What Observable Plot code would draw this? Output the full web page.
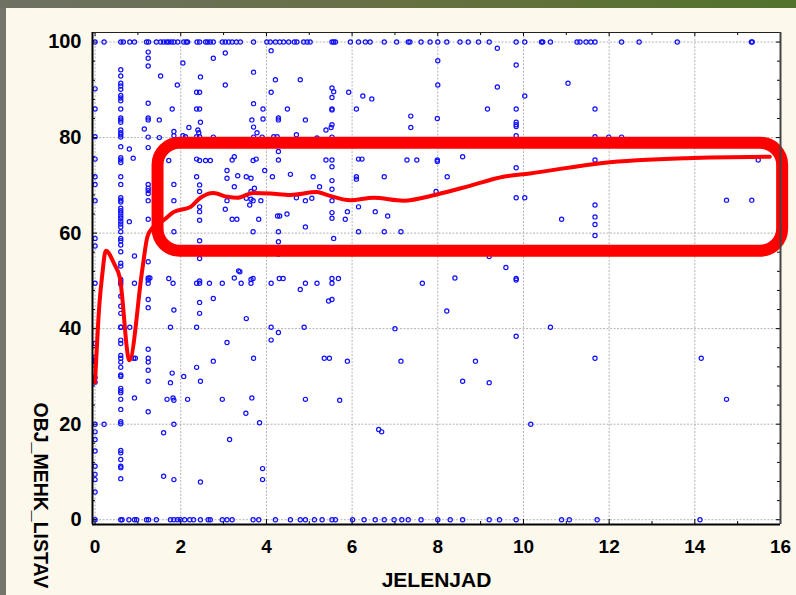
<!DOCTYPE html>
<html><head><meta charset="utf-8">
<script src="https://cdn.jsdelivr.net/npm/d3@7"></script>
<script src="https://cdn.jsdelivr.net/npm/@observablehq/plot@0.6"></script>
<style>
html,body{margin:0;padding:0;}
body{width:796px;height:595px;position:relative;overflow:hidden;background:linear-gradient(90deg,#6e7163 0%,#65703f 55%,#52732c 100%);}
#leftstrip{position:absolute;left:0;top:8px;width:6px;bottom:0;background:#74766b;}
#panel{position:absolute;left:6px;top:8px;right:0;bottom:0;background:#fdf8ec;}
#chart{position:absolute;left:0;top:0;}
</style></head><body>
<div id="leftstrip"></div><div id="panel"></div><div id="chart"></div>
<script>
// ---- data ----
const xLabel = "JELENJAD";
const yLabel = "OBJ_MEHK_LISTAV";
const xTicks = [0, 2, 4, 6, 8, 10, 12, 14, 16];
const yTicks = [0, 20, 40, 60, 80, 100];
const xMinor = [1, 3, 5, 7, 9, 11, 13, 15];
const yMinor = [4, 8, 12, 16, 24, 28, 32, 36, 44, 48, 52, 56, 64, 68, 72, 76, 84, 88, 92, 96];
const xDomain = [-0.06, 16];
const yDomain = [-1, 102];

// points on the y = 100 row (x values)
const topRowX = [0, 0.21, 0.6, 0.66, 0.81, 0.92, 1.2, 1.25, 1.43, 1.53, 1.6, 1.67, 1.72, 1.78, 1.84, 1.93, 2.07, 2.13, 2.16, 2.38, 2.44, 2.58, 2.63, 2.69, 2.76, 2.97, 3.04, 3.12, 3.2, 3.3, 3.39, 3.7, 4.01, 4.09, 4.21, 4.31, 4.4, 4.52, 4.65, 4.71, 4.87, 4.95, 5.02, 5.53, 5.57, 5.61, 5.96, 6.15, 6.31, 6.42, 6.75, 7.04, 7.31, 7.35, 7.61, 7.82, 8.0, 8.21, 8.52, 8.71, 8.95, 9.2, 9.83, 10.03, 10.42, 10.45, 10.63, 11.25, 11.32, 11.46, 11.57, 11.67, 12.29, 12.7, 13.59, 15.32, 15.34];
// points on the y = 0 row (x values)
const bottomRowX = [0, 0.6, 0.63, 0.79, 0.92, 0.97, 1.2, 1.25, 1.43, 1.76, 1.84, 1.92, 1.99, 2.09, 2.21, 2.3, 2.46, 2.64, 2.69, 2.97, 3.08, 3.2, 3.69, 3.82, 4.21, 4.56, 4.79, 4.91, 5.12, 5.3, 5.53, 5.61, 6.01, 6.28, 6.54, 6.75, 6.98, 7.16, 7.31, 7.61, 8.0, 8.29, 8.58, 9.2, 9.44, 9.83, 10.89, 11.07, 11.72, 14.12];
// column at x = 0 (y values)
const col0Y = [90.2, 86.0, 80.2, 75.5, 71.8, 70.2, 66.8, 58.9, 57.3, 49.5, 36.9, 34.0, 33.4, 33.0, 29.8, 28.8, 20.0, 18.4, 16.8, 14.4, 11.2, 9.5, 8.4, 5.8];
// column at x = 0.6 (y values)
const col06Y = [94.2, 92.9, 91.4, 90.8, 90.1, 88.8, 88.3, 87.7, 86.0, 84.1, 83.7, 83.2, 81.6, 81.0, 80.6, 80.1, 78.1, 75.8, 75.3, 74.8, 71.8, 70.2, 67.4, 66.9, 66.5, 65.2, 64.7, 64.2, 63.6, 63.1, 62.5, 61.9, 61.3, 60.3, 58.9, 58.4, 57.5, 56.1, 53.7, 53.1, 50.3, 49.8, 49.3, 46.8, 44.7, 43.2, 40.3, 40.3, 37.6, 36.9, 34.4, 33.8, 33.0, 31.9, 30.3, 30.0, 27.5, 27.0, 26.6, 25.2, 23.1, 20.5, 20.1, 14.5, 14.0, 12.6, 11.2, 10.9, 8.6];
// column at x = 1.24 (y values)
const col124Y = [97.9, 96.6, 95.0, 87.2, 84.1, 83.7, 80.1, 77.9, 70.2, 69.4, 68.9, 68.3, 66.8, 62.9, 54.0, 50.6, 50.2, 49.5, 46.1, 44.4, 35.7, 33.8, 33.0, 31.3, 29.0, 22.6];
// remaining points [JELENJAD, OBJ_MEHK_LISTAV]
const others = [
[0.21,20.0],[1.28,50.6],
[4.11,98.2],[3.04,97.7],[2.76,96.6],[2.05,95.6],[1.53,92.9],[2.46,92.7],[3.7,93.7],[4.21,92.1],[1.92,91.0],[3.04,91.0],[2.37,89.5],[2.44,89.5],[4.11,89.5],[1.8,86.0],[2.37,86.0],[2.44,86.0],[3.7,87.1],[3.92,86.0],[4.28,84.1],[1.5,83.7],[2.46,83.2],[3.66,83.7],[3.92,83.9],[1.15,81.8],[1.84,81.3],[2.19,82.1],[2.4,81.6],[2.42,81.0],[3.7,82.2],[3.78,81.0],[1.5,80.0],[1.84,80.4],[2.05,80.4],[2.11,80.2],[2.37,80.2],[2.44,80.2],[2.76,80.1],[3.7,80.1],[3.9,80.1],[4.17,80.2],[4.25,80.2],[0.8,77.6],[0.89,75.7],
[1.72,75.2],[2.37,75.5],[2.44,75.2],[2.58,75.2],[2.69,75.2],[3.2,75.3],[3.25,76.0],[3.69,75.2],[3.76,75.5],[3.96,73.1],[2.37,71.8],[1.84,70.2],[2.44,70.1],[2.44,68.7],[3.08,73.1],[3.08,71.5],[3.33,72.0],[3.53,71.8],[3.64,71.5],[4.14,71.8],[3.25,69.7],[3.72,69.4],[3.64,68.7],[1.84,66.8],[3.08,66.8],[3.53,67.3],[3.64,67.1],[3.69,66.8],[3.87,66.8],[2.44,65.5],[2.44,64.5],[2.44,62.7],[3.04,65.0],[3.61,65.9],[0.8,62.4],[3.2,62.9],[3.31,62.9],[3.82,62.9],[1.84,60.3],[3.69,60.3],[2.44,58.4],[0.92,55.2],[2.44,54.7],[3.35,52.1],[1.72,50.5],[3.25,50.6],[3.69,50.5],
[0.92,49.5],[1.82,49.5],[2.37,49.5],[2.44,50.0],[2.44,49.5],[2.67,49.5],[2.97,49.5],[3.38,51.9],[3.41,49.5],[3.64,50.3],[3.64,49.5],[4.11,49.5],[4.3,50.5],[2.76,46.3],[2.44,45.5],[2.44,43.2],[1.84,43.9],[3.53,42.1],[0.81,40.3],[1.76,40.3],[2.37,40.3],[4.11,40.3],[4.28,39.2],[4.11,37.6],[3.08,37.1],[0.9,33.8],[0.94,33.8],[2.76,33.2],[3.7,33.8],[1.8,30.7],[1.76,28.7],[2.07,30.0],[2.37,31.9],[2.46,29.0],[0.92,25.5],[1.68,25.2],[1.82,25.5],[2.16,25.2],[2.97,25.2],[3.66,25.5],
[1.84,25.0],[3.52,22.3],[1.84,20.0],[3.84,20.3],[1.6,18.2],[3.14,16.8],[1.6,9.1],[1.84,8.4],[2.46,7.9],[3.91,10.7],[3.91,8.4],
[9.39,98.7],[8.0,96.1],[9.83,95.2],[4.79,92.1],[8.0,91.0],[9.39,90.6],[5.53,90.4],[5.57,89.6],[5.53,88.4],[5.92,89.5],[6.25,88.7],[6.46,88.1],[10.03,88.7],[4.49,86.0],[5.53,86.0],[5.53,85.8],[6.1,86.0],[9.16,86.0],[9.83,86.0],[4.28,83.7],[4.91,83.7],[7.37,84.5],[7.37,82.1],[7.99,84.0],[9.83,83.2],[9.83,82.7],[9.83,82.3],[5.53,82.7],[5.51,82.1],[5.39,81.6],[4.7,80.6],[5.18,79.9],[5.53,80.1],[9.83,80.4],[4.28,77.1],[4.28,75.3],[5.39,75.3],[5.53,75.3],[5.53,73.9],[6.15,75.5],[6.23,75.5],[7.28,75.3],[7.51,75.3],[7.99,75.3],[7.99,75.0],[8.58,76.0],[9.83,73.7],[4.56,72.3],[5.09,71.8],[5.53,71.0],[5.24,69.7],[6.1,71.8],[6.1,71.3],[6.75,71.8],[8.22,71.8],[5.53,69.2],[7.96,68.7],[4.7,67.4],[4.91,66.8],[5.06,67.3],[5.53,66.8],[9.83,67.4],[10.03,67.4],[4.26,63.6],[4.31,63.6],[4.48,64.0],[5.53,64.3],[5.53,63.1],[5.89,64.5],[5.84,62.9],[6.15,65.5],[6.54,64.5],[6.83,63.6],[4.91,61.3],[4.28,60.3],[6.15,60.3],[6.75,60.3],[7.14,60.3],[5.57,58.9],[4.28,58.2],[4.28,55.6],[9.2,55.1],[9.59,52.8],[4.39,50.5],[5.53,50.5],[5.68,50.5],[8.4,50.6],[9.83,50.5],
[4.79,48.2],[4.91,49.5],[5.18,49.5],[5.53,49.5],[5.45,45.8],[5.53,46.1],[7.64,49.5],[9.83,50.2],[8.21,43.7],[4.88,40.3],[7.0,40.0],[9.83,38.4],[5.35,33.8],[5.47,33.8],[5.89,33.2],[7.14,33.2],[8.88,33.2],[8.58,29.0],[9.2,28.7],[4.91,25.2],[5.71,25.0],[6.62,18.9],[6.69,18.4],[10.17,20.0],
[11.04,91.4],[11.67,86.0],[11.67,80.2],[11.99,80.1],[12.29,80.1],[11.67,75.3],[15.48,75.3],[14.74,66.9],[15.33,66.9],[11.67,65.9],[10.89,62.9],[11.67,63.4],[11.67,61.8],[11.67,59.5],
[10.63,40.3],[11.67,33.8],[14.15,33.8],[14.74,25.2]
];
// smoothed fit line
const fitX = [0, 0.1, 0.17, 0.25, 0.45, 0.58, 0.8, 1.1, 1.22, 1.34, 1.6, 1.83, 2.23, 2.46, 2.76, 3.09, 3.32, 3.69, 4.09, 4.56, 5.18, 5.41, 5.96, 6.5, 7.2, 7.98, 8.75, 9.53, 10.15, 11.85, 13.81, 15.75];
const fitY = [28.8, 45.0, 51.5, 56.3, 53.5, 50.6, 33.4, 52.2, 59.2, 61.1, 62.7, 64.4, 65.5, 67.4, 68.4, 67.6, 67.4, 68.4, 68.3, 68.0, 68.6, 68.0, 66.9, 67.4, 66.8, 68.1, 69.9, 71.8, 72.5, 74.7, 75.7, 76.0];
// highlighted region
const boxX = [1.47, 16.05];
const boxY = [56.2, 78.8];

// ---- build tables ----
const points = [
  ...topRowX.map(x => ({x, y: 100})),
  ...bottomRowX.map(x => ({x, y: 0})),
  ...col0Y.map(y => ({x: 0, y})),
  ...col06Y.map(y => ({x: 0.6, y})),
  ...col124Y.map(y => ({x: 1.24, y})),
  ...others.map(([x, y]) => ({x, y}))
];
const fit = fitX.map((x, i) => ({x, y: fitY[i]}));
const box = [{x1: boxX[0], x2: boxX[1], y1: boxY[0], y2: boxY[1]}];

const W = 796, H = 595, mL = 92, mR = 16, mT = 32, mB = 71;
const fH = H - mT - mB, fW = W - mL - mR;
const font = "Arial, 'Liberation Sans', Helvetica, sans-serif";

const chart = Plot.plot({
  width: W, height: H,
  marginLeft: mL, marginRight: mR, marginTop: mT, marginBottom: mB,
  style: {background: "none", fontFamily: font, color: "#000", overflow: "visible"},
  x: {domain: xDomain, axis: null},
  y: {domain: yDomain, axis: null},
  marks: [
    Plot.frame({fill: "#ffffff", stroke: null}),
    Plot.ruleX(xTicks, {x: d => d, stroke: "#b4b4b4", strokeDasharray: "2,1.5"}),
    Plot.ruleY(yTicks, {y: d => d, stroke: "#b4b4b4", strokeDasharray: "2,1.5"}),
    // inward tick marks
    Plot.tickX(xTicks, {x: d => d, insetTop: fH - 5, stroke: "#000"}),
    Plot.tickX(xMinor, {x: d => d, insetTop: fH - 3, stroke: "#000"}),
    Plot.tickX(xTicks, {x: d => d, insetBottom: fH - 4, stroke: "#000"}),
    Plot.tickX(xMinor, {x: d => d, insetBottom: fH - 3, stroke: "#000"}),
    Plot.tickY(yTicks, {y: d => d, insetRight: fW - 5, stroke: "#000"}),
    Plot.tickY(yMinor, {y: d => d, insetRight: fW - 3, stroke: "#000"}),
    Plot.tickY(yTicks, {y: d => d, insetLeft: fW - 4, stroke: "#000"}),
    Plot.tickY(yMinor, {y: d => d, insetLeft: fW - 3, stroke: "#000"}),
    Plot.dot(points, {x: "x", y: "y", r: 2.1, stroke: "#1010ff", strokeWidth: 1.2, fill: "none"}),
    Plot.line(fit, {x: "x", y: "y", stroke: "#ff0000", strokeWidth: 4, curve: "monotone-x"}),
    Plot.rect(box, {x1: "x1", x2: "x2", y1: "y1", y2: "y2", fill: "none", stroke: "#ff0000", strokeWidth: 12, rx: 22}),
    // frame
    Plot.ruleY([yDomain[1]], {stroke: "#222", strokeWidth: 1}),
    Plot.ruleX([xDomain[1]], {stroke: "#444", strokeWidth: 2}),
    Plot.ruleX([xDomain[0]], {stroke: "#000", strokeWidth: 2}),
    Plot.ruleY([yDomain[0]], {stroke: "#000", strokeWidth: 2}),
    // tick labels
    Plot.axisX(xTicks, {anchor: "bottom", tickSize: 0, tickPadding: 15, fontSize: 19, fontWeight: "bold", label: null, fill: "#000"}),
    Plot.axisY(yTicks, {anchor: "left", tickSize: 0, tickPadding: 11, fontSize: 20, fontWeight: "bold", label: null, fill: "#000"}),
    // axis titles
    Plot.text([xLabel], {text: d => d, frameAnchor: "bottom", dy: 56, fontSize: 21, fontWeight: "bold", fill: "#000", lineAnchor: "middle"}),
    Plot.text([yLabel], {text: d => d, frameAnchor: "left", rotate: 90, textAnchor: "start", lineAnchor: "middle", dx: -52.5, dy: 124, fontSize: 19.5, fontWeight: "bold", fill: "#000"})
  ]
});
document.getElementById("chart").appendChild(chart);
</script></body></html>
